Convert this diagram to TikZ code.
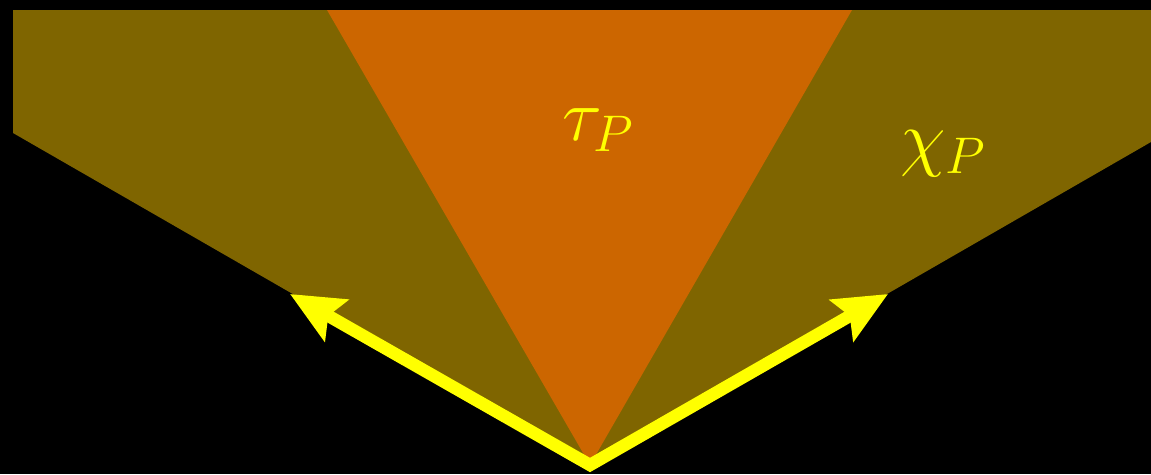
\RequirePackage{fix-cm}
\documentclass[tikz,border=0pt]{standalone}
\usetikzlibrary{arrows.meta}
\DeclareMathSizes{74}{74}{51.5}{37}
\definecolor{olivefill}{RGB}{127,101,0}
\definecolor{orangefill}{RGB}{204,102,0}
\definecolor{brightyellow}{RGB}{255,255,0}
\begin{document}
\begin{tikzpicture}[x=1pt,y=-1pt,
  region/.style={draw=none},
  vecarrow/.style={draw=brightyellow,line width=12.5pt,line join=miter,
    {Stealth[length=53pt,width=47pt,inset=9pt]}-{Stealth[length=53pt,width=47pt,inset=9pt]}},
  conelabel/.style={text=brightyellow,inner sep=0pt,anchor=base,font=\fontsize{74}{74}\selectfont}]
\fill[black] (0,0) rectangle (1151,474);
\useasboundingbox (0,0) rectangle (1151,474);
\coordinate (apex) at (590,465);
\coordinate (tipL) at (290,294);
\coordinate (tipR) at (888,294);
\fill[olivefill,region] (13,10) -- (1151,10) -- (1151,142) -- (apex) -- (13,133) -- cycle;
\fill[orangefill,region] (327,10) -- (852,10) -- (apex) -- cycle;
\draw[vecarrow] (tipL) -- (apex) -- (tipR);
\node[conelabel] (tau) at (598,140) {$\tau_P$};
\node[conelabel] (chi) at (943,162) {$\chi_P$};
\end{tikzpicture}
\end{document}
